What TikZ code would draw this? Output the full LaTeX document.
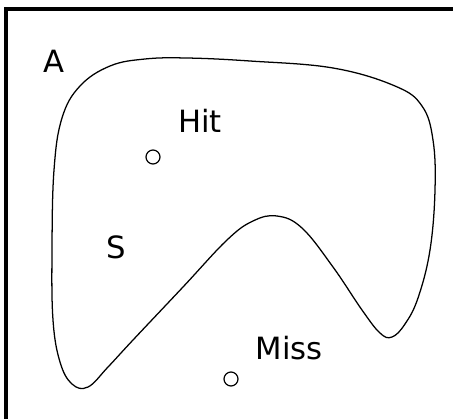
\documentclass[tikz,border=0pt]{standalone}
\usepackage{fontspec}
\setmainfont{DejaVu Sans}
\begin{document}
\begin{tikzpicture}[x=0.75pt, y=-0.75pt,
  label text/.style={font=\fontsize{23}{27}\selectfont, inner sep=0pt, anchor=base},
  sample pt/.style={circle, draw, line width=0.9pt, minimum size=10.5pt, inner sep=0pt}]
  % canvas
  \useasboundingbox (0,0) rectangle (453,418);
  \clip (0,0) rectangle (453,418);
  \draw[line width=2.3pt] (6,480) -- (6,9) -- (500,9);

  % set S
  \draw[line width=0.95pt] plot[smooth cycle, tension=0.65] coordinates {
    (187,58) (250,61) (333,68) (395,86) (422,106) (433,140) (435,190)
    (430,250) (418,298) (405,324) (392,337) (380,333) (362,310) (333,267)
    (302,228) (277,216) (253,221) (227,240) (183,287) (133,340) (108,367)
    (88,387) (72,384) (60,362) (53,320) (52,250) (54,170) (62,118) (80,86)
    (110,66) (145,59)};

  % labels
  \node[label text] (labA) at (54,72) {A};
  \node[label text] (labS) at (116,258) {S};
  \node[label text] (labHit) at (200,132) {Hit};
  \node[label text] (labMiss) at (289,359) {Miss};

  % sample points
  \node[sample pt] (hit) at (153,157) {};
  \node[sample pt] (miss) at (231,379) {};
\end{tikzpicture}
\end{document}
